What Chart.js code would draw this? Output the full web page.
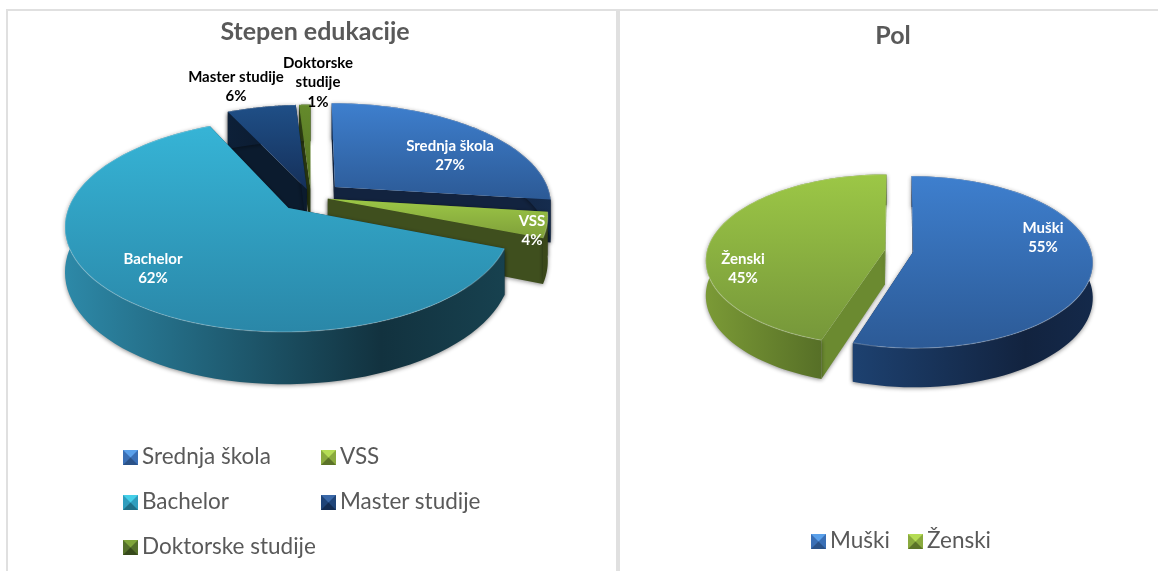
<!DOCTYPE html>
<html>
<head>
<meta charset="utf-8">
<script src="https://cdn.jsdelivr.net/npm/chart.js@4"></script>
<style>
html, body { margin: 0; padding: 0; background: #fff; overflow: hidden; }
body { width: 1158px; height: 571px; position: relative; font-family: Lato, sans-serif; }
.panel { position: absolute; box-sizing: border-box; border: 2px solid #e0e0e0; border-bottom: none; }
canvas { position: absolute; top: 0; }
.leg { position: absolute; font-size: 22.5px; line-height: 26px; color: #595959; white-space: nowrap; }
.leg i { display: inline-block; box-sizing: border-box; width: 15px; height: 15px; border-style: solid; border-width: 7.5px; margin-right: 4px; vertical-align: -1px; }
</style>
</head>
<body>
<div class="panel" style="left:6px;top:9px;width:612px;height:562px"></div>
<div class="panel" style="left:618px;top:9px;width:540px;height:562px;border-right:none"></div>
<canvas id="graficoEdukacija" width="630" height="571" style="left:0"></canvas>
<canvas id="graficoPol" width="530" height="571" style="left:628px"></canvas>
<script>
var eduLabels = ['Srednja škola', 'VSS', 'Bachelor', 'Master studije', 'Doktorske studije'];
var eduValues = [27, 4, 62, 6, 1];
var polLabels = ['Muški', 'Ženski'];
var polValues = [55, 45];

// boje: vrh (gore, dole), zid (levo, sredina, desno), rez, legenda (gore, strane, dole)
var eduBoje = [
	{ top: ['#3e7fce', '#2c5a96'], wall: ['#1a3a66', '#12233f', '#152c4e'], cut: '#12233f', leg: ['#5aa0ea', '#3a6fb5', '#2a5288'] },
	{ top: ['#9cc746', '#7f9f3a'], wall: ['#445620', '#374318', '#3a4719'], cut: '#3f4f1e', leg: ['#b5dc55', '#8aaa3e', '#5c7328'] },
	{ top: ['#36b4d6', '#2a87a8'], wall: ['#2d89a8', '#12323f', '#17414f'], cut: '#17414f', leg: ['#45cfe8', '#2f9dbd', '#1f6f87'] },
	{ top: ['#1f4f87', '#15305a'], wall: ['#0d2038', '#0b1a2e', '#0b1a2e'], cut: '#0b1b2e', leg: ['#3a68a8', '#1f4478', '#132c52'] },
	{ top: ['#648a2b', '#557324'], wall: ['#2f4214', '#2a3a12', '#2a3a12'], cut: '#2a3a12', leg: ['#7fa53a', '#54702a', '#36491a'] }
];
var polBoje = [
	{ top: ['#3e7fce', '#2c5a96'], wall: ['#1d4170', '#12233f', '#14294a'], cut: '#14294a', leg: ['#5aa0ea', '#3a6fb5', '#2a5288'] },
	{ top: ['#9cc746', '#76973a'], wall: ['#7b9a36', '#526a25', '#526a25'], cut: '#6b8a30', leg: ['#b5dc55', '#8aaa3e', '#5c7328'] }
];

// pogled: projekcija ravni pite na kanvas, sa perspektivom
var eduPogled = { ox: 311, oy: 196.8, a: 216, s: 100.2, k: 0.16, h: 43 };
var polPogled = { ox: 271, oy: 251, a: 178, s: 84.6, k: 0.117, h: 34.5 };

function tacka(p, u, v, z) {
	var d = 1 - p.k * v;
	return { x: p.ox + p.a * u / d, y: p.oy + (p.s * v + (z ? p.h : 0)) / d };
}

function put(ctx, tacke) {
	ctx.beginPath();
	tacke.forEach(function(t, i) { if (i === 0) ctx.moveTo(t.x, t.y); else ctx.lineTo(t.x, t.y); });
	ctx.closePath();
}

function nacrtajIsecak(ctx, p, arc, boja) {
	var sredina = (arc.startAngle + arc.endAngle) / 2;
	// offset je ovde procenat poluprecnika, kao explosion u Excelu
	var cu = arc.options.offset / 100 * Math.cos(sredina);
	var cv = arc.options.offset / 100 * Math.sin(sredina);
	var luk = [];
	for (var i = 0; i <= 80; i++) {
		var t = arc.startAngle + (arc.endAngle - arc.startAngle) * i / 80;
		luk.push([cu + Math.cos(t), cv + Math.sin(t)]);
	}
	var gore = luk.map(function(q) { return tacka(p, q[0], q[1], false); });
	var dole = luk.map(function(q) { return tacka(p, q[0], q[1], true); }).reverse();
	var cGore = tacka(p, cu, cv, false);
	var cDole = tacka(p, cu, cv, true);
	var xs = gore.map(function(t) { return t.x; }).concat(cGore.x);
	var ys = gore.map(function(t) { return t.y; }).concat(cGore.y);
	var xMin = Math.min.apply(null, xs), xMax = Math.max.apply(null, xs);
	var yMin = Math.min.apply(null, ys), yMax = Math.max.apply(null, ys);

	// rezovi
	ctx.save();
	ctx.shadowColor = 'rgba(0,0,0,0.45)';
	ctx.shadowBlur = 4;
	ctx.shadowOffsetY = 1;
	ctx.fillStyle = boja.cut;
	put(ctx, [cGore, gore[0], dole[dole.length - 1], cDole]);
	ctx.fill();
	put(ctx, [cGore, gore[gore.length - 1], dole[0], cDole]);
	ctx.fill();

	// spoljni zid
	var gz = ctx.createLinearGradient(xMin, 0, xMax, 0);
	gz.addColorStop(0, boja.wall[0]);
	gz.addColorStop(0.72, boja.wall[1]);
	gz.addColorStop(1, boja.wall[2]);
	ctx.fillStyle = gz;
	put(ctx, gore.concat(dole));
	ctx.fill();
	ctx.restore();

	// vrh
	var gv = ctx.createLinearGradient(0, yMin, 0, yMax);
	gv.addColorStop(0, boja.top[0]);
	gv.addColorStop(1, boja.top[1]);
	ctx.fillStyle = gv;
	put(ctx, [cGore].concat(gore));
	ctx.fill();

	// svetla ivica
	ctx.strokeStyle = 'rgba(255,255,255,0.22)';
	ctx.lineWidth = 1.2;
	ctx.beginPath();
	gore.forEach(function(t, i) { if (i === 0) ctx.moveTo(t.x, t.y); else ctx.lineTo(t.x, t.y); });
	ctx.stroke();
}

var pita3d = {
	id: 'pita3d',
	beforeDatasetDraw: function(chart, args, opts) {
		var ctx = chart.ctx;
		var arcs = args.meta.data;
		opts.redosled.forEach(function(i) {
			nacrtajIsecak(ctx, opts.pogled, arcs[i], opts.boje[i]);
		});
		return false;
	},
	afterDatasetsDraw: function(chart, args, opts) {
		var ctx = chart.ctx;
		var vrednosti = chart.data.datasets[0].data;
		var ukupno = vrednosti.reduce(function(a, b) { return a + b; }, 0);
		ctx.save();
		ctx.font = 'bold 15px Lato, sans-serif';
		ctx.textAlign = 'center';
		ctx.textBaseline = 'middle';
		opts.natpisi.forEach(function(n, i) {
			var redovi = n.tekst.concat(Math.round(vrednosti[i] / ukupno * 100) + '%');
			ctx.fillStyle = n.boja;
			redovi.forEach(function(red, j) {
				ctx.fillText(red, n.x, n.y + j * 19.5);
			});
		});
		ctx.restore();
	}
};

function napraviGrafik(id, labels, values, pomeraji, naslov, naslovTop, plugin) {
	return new Chart(document.getElementById(id).getContext('2d'), {
		type: 'pie',
		data: {
			labels: labels,
			datasets: [{ data: values, offset: pomeraji, borderWidth: 0 }]
		},
		plugins: [pita3d],
		options: {
			responsive: false,
			animation: false,
			plugins: {
				legend: { display: false },
				tooltip: { enabled: false },
				title: {
					display: true,
					text: naslov,
					color: '#595959',
					font: { family: 'Lato, sans-serif', size: 25, weight: 'bold' },
					padding: { top: naslovTop, bottom: 10 }
				},
				pita3d: plugin
			}
		}
	});
}

napraviGrafik('graficoEdukacija', eduLabels, eduValues, [15, 8, 15, 8, 8], 'Stepen edukacije', 17, {
	pogled: eduPogled,
	boje: eduBoje,
	redosled: [4, 3, 0, 1, 2],
	natpisi: [
		{ tekst: ['Srednja škola'], x: 450, y: 146, boja: '#fff' },
		{ tekst: ['VSS'], x: 532, y: 221, boja: '#fff' },
		{ tekst: ['Bachelor'], x: 153, y: 259, boja: '#fff' },
		{ tekst: ['Master studije'], x: 236, y: 77, boja: '#000' },
		{ tekst: ['Doktorske', 'studije'], x: 318, y: 63, boja: '#000' }
	]
});

napraviGrafik('graficoPol', polLabels, polValues, [8, 8], 'Pol', 21, {
	pogled: polPogled,
	boje: polBoje,
	redosled: [1, 0],
	natpisi: [
		{ tekst: ['Muški'], x: 415, y: 228, boja: '#fff' },
		{ tekst: ['Ženski'], x: 115, y: 259, boja: '#fff' }
	]
});

// legende
function stavkaLegende(tekst, boja, x, y) {
	var el = document.createElement('div');
	el.className = 'leg';
	el.style.left = x + 'px';
	el.style.top = (y - 13) + 'px';
	var kocka = document.createElement('i');
	kocka.style.borderColor = boja.leg[0] + ' ' + boja.leg[1] + ' ' + boja.leg[2] + ' ' + boja.leg[1];
	kocka.style.backgroundColor = boja.leg[1];
	el.appendChild(kocka);
	el.appendChild(document.createTextNode(tekst));
	document.body.appendChild(el);
}

var eduLegendaX = [123, 321, 123, 321, 123];
var eduLegendaY = [456, 456, 501, 501, 546];
eduLabels.forEach(function(l, i) { stavkaLegende(l, eduBoje[i], eduLegendaX[i], eduLegendaY[i]); });
var polLegendaX = [811, 908];
polLabels.forEach(function(l, i) { stavkaLegende(l, polBoje[i], polLegendaX[i], 540); });
</script>
</body>
</html>
